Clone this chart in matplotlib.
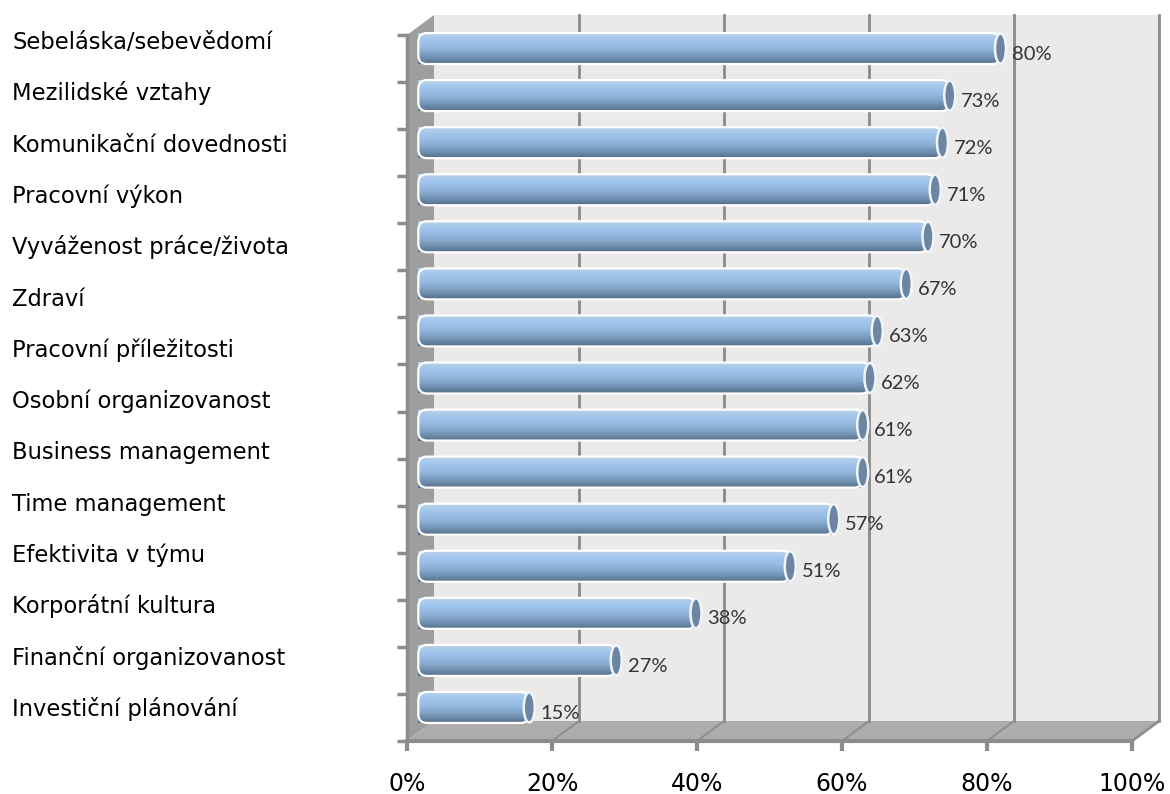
import numpy as np
import matplotlib.pyplot as plt
from matplotlib.patches import Polygon, FancyBboxPatch, Ellipse
from matplotlib.colors import LinearSegmentedColormap

# popisky vlevo (14) a hodnoty valcu (15) - tak jak jsou v puvodnim grafu
kategorie = ["Sebeláska/sebevědomí", "Mezilidské vztahy", "Komunikační dovednosti",
             "Pracovní výkon", "Vyváženost práce/života", "Zdraví",
             "Pracovní příležitosti", "Osobní organizovanost", "Business management",
             "Time management", "Efektivita v týmu", "Korporátní kultura",
             "Finanční organizovanost", "Investiční plánování"]
hodnoty = [80, 73, 72, 71, 70, 67, 63, 62, 61, 61, 57, 51, 38, 27, 15]
osa_x = [0, 20, 40, 60, 80, 100]
popisky_x = ["0%", "20%", "40%", "60%", "80%", "100%"]

n = len(hodnoty)
W, H = 1170, 794
fig = plt.figure(figsize=(W / 100, H / 100), dpi=100)
ax = fig.add_axes([407 / W, (H - 741) / H, 725 / W, 706 / H])
ax.set_xlim(0, 100)
ax.set_ylim(n - 0.5, -0.5)
ax.set_facecolor("none")

# hloubka 3D efektu v jednotkach os
px_x = 100 / 725
px_y = n / 706
DX = 27 * px_x
DY = -20 * px_y

y_lo, y_hi = -0.5, n - 0.5

# zadni stena
ax.add_patch(Polygon([(DX, y_lo + DY), (100 + DX, y_lo + DY), (100 + DX, y_hi + DY), (DX, y_hi + DY)],
                     closed=True, fc="#ece9e9", ec="none", clip_on=False, zorder=0))
# leva stena
ax.add_patch(Polygon([(0, y_lo), (DX, y_lo + DY), (DX, y_hi + DY), (0, y_hi)],
                     closed=True, fc="#9e9e9e", ec="none", clip_on=False, zorder=0.5))
# podlaha
ax.add_patch(Polygon([(0, y_hi), (100, y_hi), (100 + DX, y_hi + DY), (DX, y_hi + DY)],
                     closed=True, fc="#adadad", ec="none", clip_on=False, zorder=0.5))
ax.plot([100, 100 + DX], [y_hi, y_hi + DY], color="#909090", lw=2, clip_on=False, zorder=0.6)

# mrizka
for gx in osa_x[1:]:
    ax.plot([gx + DX, gx + DX], [y_lo + DY, y_hi + DY], color="#8a8a8a", lw=2, clip_on=False, zorder=0.6)
    ax.plot([gx + DX, gx], [y_hi + DY, y_hi], color="#8f8f8f", lw=1.5, clip_on=False, zorder=0.6)

# valce
barvy = ["#b9d2ea", "#a3c6ec", "#97bde4", "#88abd0", "#7090b0", "#56708a"]
cmap = LinearSegmentedColormap.from_list("valec", barvy)
grad = np.linspace(0, 1, 64).reshape(-1, 1)
vyska = 31 * px_y
cap_w = 11 * px_x
aspekt = px_y / px_x

for i, v in enumerate(hodnoty):
    yc = i + DY / 2
    x0 = DX / 2 - 0.3
    x1 = v + DX / 2
    telo = FancyBboxPatch((x0, yc - vyska / 2), x1 - x0, vyska,
                          boxstyle="round,pad=0,rounding_size=1.2",
                          mutation_aspect=aspekt, fc="none", ec="white", lw=1.6,
                          clip_on=False, zorder=3)
    ax.add_patch(telo)
    im = ax.imshow(grad, cmap=cmap, extent=[x0, x1, yc + vyska / 2, yc - vyska / 2],
                   aspect="auto", origin="upper", zorder=2, clip_on=False)
    im.set_clip_path(telo)
    ax.add_patch(Ellipse((x1, yc), cap_w, vyska * 0.97, fc="#6c86a1", ec="#eef4fa",
                         lw=1.8, clip_on=False, zorder=4))
    ax.text(x1 + cap_w / 2 + 0.8, yc + 0.12, f"{v}%", ha="left", va="center",
            fontsize=14.5, color="#333333", family="Lato", zorder=5)

# osy
for s in ["top", "right"]:
    ax.spines[s].set_visible(False)
ax.spines["left"].set_color("#8c8c8c")
ax.spines["left"].set_linewidth(2.5)
ax.spines["bottom"].set_color("#8c8c8c")
ax.spines["bottom"].set_linewidth(3)
ax.set_yticks(np.arange(y_lo, y_hi + 0.01, 1.0))
ax.set_yticklabels([])
ax.tick_params(axis="y", length=7, width=2.5, color="#8c8c8c")
ax.set_xticks(osa_x)
ax.set_xticklabels(popisky_x, fontsize=17, family="DejaVu Sans", color="black")
ax.tick_params(axis="x", length=7, width=3, color="#8c8c8c", pad=15)

# popisky kategorii - samostatny sloupec textu
for i, k in enumerate(kategorie):
    fig.text(12 / W, 1 - (49 + 51.3 * i) / H, k, ha="left", va="baseline",
             fontsize=16.3, family="DejaVu Sans", color="black")

fig.savefig("out.png", dpi=100)
